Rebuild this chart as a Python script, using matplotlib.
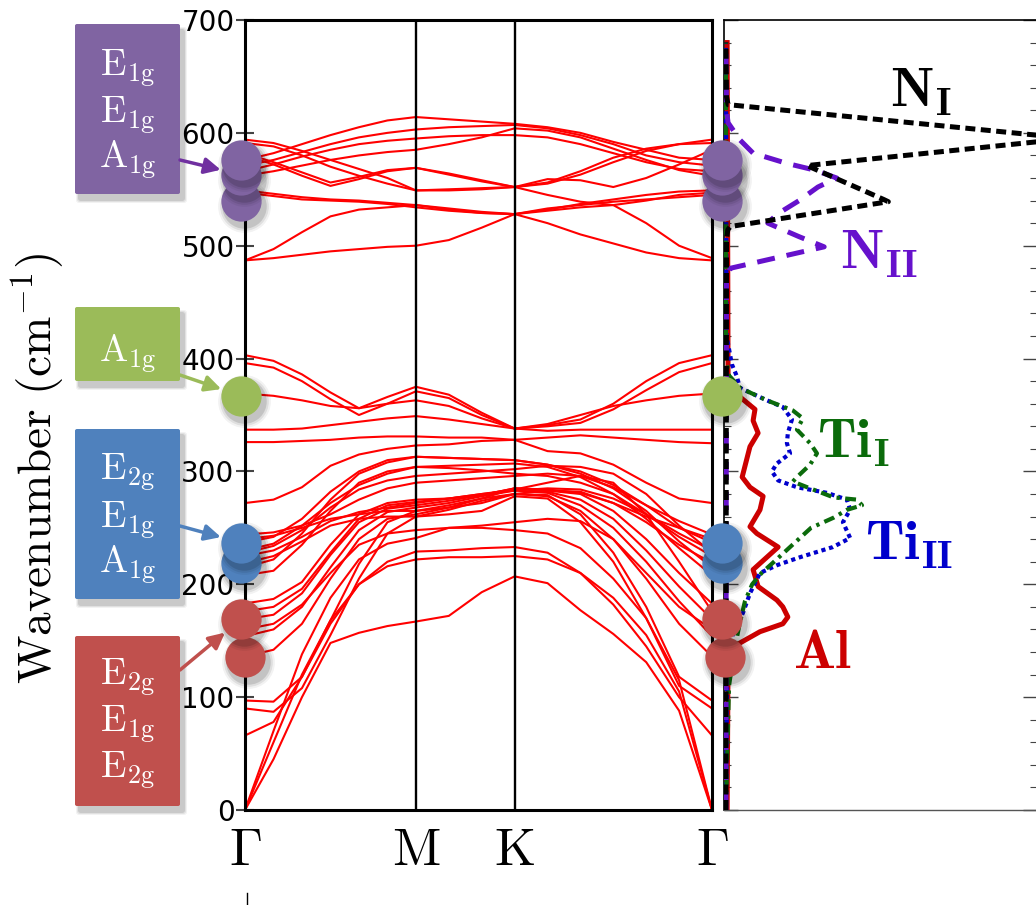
import matplotlib
matplotlib.use("Agg")
import matplotlib.pyplot as plt
from matplotlib.patches import FancyBboxPatch
from matplotlib.lines import Line2D
from matplotlib.transforms import ScaledTranslation
from matplotlib.ticker import MultipleLocator

plt.rcParams["mathtext.fontset"] = "cm"
plt.rcParams["font.family"] = "DejaVu Sans"

# ---------------------------------------------------------------- data
# k-path sample positions (Gamma-M = 1, M-K = 1/sqrt3, K-Gamma = 2/sqrt3)
K_GRID = [0.0, 0.1667, 0.3333, 0.5, 0.6667, 0.8333, 1.0,
          1.1925, 1.3849, 1.5774,
          1.7698, 1.9623, 2.1547, 2.3472, 2.5396, 2.7321]
K_TICKS = [0.0, 1.0, 1.5774, 2.7321]
K_LABELS = [r"$\Gamma$", r"$\mathrm{M}$", r"$\mathrm{K}$", r"$\Gamma$"]

# phonon branches (cm^-1) at the K_GRID points
N_BANDS = [
    [576, 582, 590, 598, 605, 611, 614, 612, 610, 608, 605, 600, 592, 585, 578, 576],
    [571, 576, 583, 590, 596, 600, 603, 605, 606, 607, 604, 598, 590, 580, 574, 571],
    [566, 572, 579, 585, 590, 593, 595, 597, 598, 598, 596, 590, 582, 574, 568, 566],
    [562, 566, 571, 576, 580, 583, 585, 590, 596, 604, 602, 596, 586, 576, 567, 562],
    [594, 591, 584, 576, 568, 560, 549, 549, 550, 552, 559, 558, 552, 560, 572, 585],
    [591, 588, 580, 570, 562, 555, 549, 550, 551, 552, 555, 563, 574, 584, 590, 594],
    [582, 574, 565, 556, 561, 567, 569, 564, 558, 552, 545, 539, 536, 520, 500, 489],
    [580, 572, 562, 553, 559, 566, 569, 563, 557, 552, 556, 566, 578, 586, 590, 591],
    [549, 546, 543, 541, 540, 538, 536, 533, 530, 528, 532, 537, 541, 545, 548, 549],
    [547, 544, 541, 540, 539, 537, 534, 531, 529, 528, 531, 534, 536, 540, 545, 547],
    [487, 497, 512, 526, 532, 534, 536, 532, 529, 528, 520, 510, 502, 494, 489, 487],
    [487, 489, 492, 495, 497, 499, 500, 505, 516, 528, 533, 536, 539, 541, 543, 545],
]
HIGH_OPTICAL = [
    [403, 398, 386, 370, 356, 366, 375, 368, 352, 338, 341, 346, 360, 380, 396, 403],
    [396, 392, 380, 364, 350, 360, 371, 365, 350, 338, 340, 343, 355, 372, 388, 396],
    [369, 367, 363, 358, 356, 360, 363, 358, 347, 338, 342, 350, 358, 363, 367, 369],
    [337, 337, 338, 341, 344, 347, 349, 346, 342, 338, 336, 337, 337, 337, 337, 337],
    [326, 326, 327, 328, 330, 331, 331, 330, 330, 328, 330, 332, 330, 328, 326, 325],
    [272, 275, 286, 305, 315, 320, 323, 324, 327, 328, 318, 316, 306, 290, 276, 272],
]
MID_OPTICAL = [
    [208, 212, 235, 265, 290, 300, 304, 305, 306, 307, 304, 295, 280, 258, 232, 208],
    [215, 222, 245, 275, 298, 308, 313, 312, 311, 310, 306, 298, 285, 265, 238, 215],
    [219, 225, 238, 252, 258, 260, 260, 266, 274, 280, 283, 282, 272, 255, 235, 219],
    [225, 230, 242, 256, 264, 268, 272, 276, 280, 283, 285, 284, 276, 262, 242, 225],
    [230, 236, 252, 272, 288, 298, 304, 303, 301, 298, 296, 290, 280, 262, 245, 230],
    [237, 242, 258, 282, 300, 310, 313, 312, 311, 310, 306, 300, 288, 270, 250, 237],
    [240, 243, 250, 258, 262, 265, 265, 270, 276, 285, 284, 281, 272, 260, 250, 240],
    [228, 234, 248, 268, 284, 292, 296, 298, 300, 302, 305, 304, 298, 280, 252, 228],
    [244, 246, 252, 262, 275, 285, 290, 292, 294, 296, 298, 296, 286, 270, 256, 244],
    [136, 142, 165, 205, 240, 258, 262, 268, 276, 280, 278, 265, 240, 205, 165, 136],
    [154, 160, 180, 215, 248, 264, 268, 272, 278, 283, 281, 270, 250, 220, 185, 154],
    [160, 165, 182, 210, 235, 245, 248, 250, 252, 255, 258, 256, 240, 210, 180, 160],
    [169, 173, 192, 226, 255, 267, 270, 274, 279, 285, 282, 275, 258, 230, 198, 169],
    [176, 180, 196, 228, 258, 270, 273, 276, 280, 284, 290, 296, 290, 262, 220, 176],
    [183, 187, 202, 235, 262, 272, 275, 276, 279, 285, 283, 280, 265, 240, 210, 183],
]
LOW_BANDS = [
    [66, 78, 118, 165, 200, 220, 229, 230, 232, 233, 228, 210, 182, 145, 100, 66],
    [90, 87, 108, 155, 205, 245, 260, 262, 265, 278, 276, 255, 220, 170, 110, 90],
    [97, 96, 118, 168, 218, 255, 265, 268, 272, 280, 279, 262, 228, 180, 118, 97],
    [0, 45, 100, 148, 157, 163, 167, 172, 193, 207, 201, 177, 156, 131, 88, 0],
    [0, 60, 120, 168, 200, 216, 222, 224, 224, 225, 222, 210, 188, 155, 105, 0],
    [0, 70, 138, 188, 222, 236, 241, 250, 250, 248, 245, 232, 205, 170, 115, 0],
]

# Raman-active Gamma modes (cm^-1) and their symmetry labels
PURPLE_MODES = [540, 563, 576]
GREEN_MODES = [367]
BLUE_MODES = [219, 237]
RED_MODES = [136, 169]
PURPLE_LABELS = [("E", "1g"), ("E", "1g"), ("A", "1g")]
GREEN_LABELS = [("A", "1g")]
BLUE_LABELS = [("E", "2g"), ("E", "1g"), ("A", "1g")]
RED_LABELS = [("E", "2g"), ("E", "1g"), ("E", "2g")]

# partial phonon DOS (arb. units) vs wavenumber
NI_W = [0, 505, 514, 517, 539, 541, 571, 592, 596, 598, 625, 632, 680]
NI_D = [0.006, 0.008, 0.012, 0.02, 0.525, 0.51, 0.265, 0.997, 1.12, 0.997, 0.013, 0.008, 0.006]
NII_W = [0, 470, 480, 499, 508, 520, 528, 540, 552, 560, 567, 573, 582, 594, 609, 620, 680]
NII_D = [0.006, 0.008, 0.02, 0.32, 0.24, 0.14, 0.17, 0.24, 0.30, 0.36, 0.29, 0.20, 0.093,
         0.05, 0.013, 0.008, 0.006]
TII_W = [0, 110, 140, 165, 185, 200, 210, 219, 233, 250, 259, 266, 270, 275, 277, 285,
         291, 295, 306, 316, 325, 337, 347, 354, 363, 374, 385, 400, 680]
TII_D = [0.006, 0.016, 0.032, 0.05, 0.067, 0.09, 0.12, 0.156, 0.211, 0.278, 0.35, 0.393,
         0.441, 0.425, 0.35, 0.275, 0.22, 0.233, 0.275, 0.297, 0.275, 0.233, 0.252, 0.22,
         0.137, 0.051, 0.016, 0.006, 0.006]
TIII_W = [0, 110, 127, 157, 175, 192, 210, 217, 224, 233, 241, 255, 266, 275, 281, 286,
          292, 300, 307, 316, 325, 334, 346, 357, 363, 374, 385, 395, 410, 420, 680]
TIII_D = [0.006, 0.01, 0.013, 0.029, 0.061, 0.083, 0.115, 0.17, 0.243, 0.348, 0.403, 0.38,
          0.403, 0.393, 0.329, 0.233, 0.173, 0.153, 0.169, 0.211, 0.201, 0.204, 0.217,
          0.188, 0.137, 0.051, 0.04, 0.025, 0.015, 0.008, 0.006]
AL_W = [0, 130, 141, 148, 158, 165, 171, 180, 186, 198, 213, 221, 233, 245, 251, 266,
        278, 286, 295, 322, 334, 345, 355, 366, 375, 385, 680]
AL_D = [0.01, 0.013, 0.029, 0.051, 0.115, 0.188, 0.204, 0.188, 0.169, 0.109, 0.093, 0.125,
        0.173, 0.105, 0.083, 0.115, 0.125, 0.083, 0.058, 0.083, 0.109, 0.093, 0.099,
        0.051, 0.026, 0.013, 0.01]

# ---------------------------------------------------------------- layout
W, H = 1036, 905
fig = plt.figure(figsize=(W / 100, H / 100), dpi=100)


def fx(x):
    return x / W


def fy(y):
    return 1 - y / H


ax = fig.add_axes([fx(245), fy(810), (712 - 245) / W, (810 - 20) / H])
ax_dos = fig.add_axes([fx(724), fy(810), (1037 - 724) / W, (810 - 20) / H])
ax.set_zorder(3)
ax_dos.set_zorder(1)

# ---------------------------------------------------------------- dispersion
for group in (N_BANDS, HIGH_OPTICAL, MID_OPTICAL, LOW_BANDS):
    for band in group:
        ax.plot(K_GRID, band, color="#ff0000", lw=1.5, solid_joinstyle="round", zorder=2)

for kx in K_TICKS[1:3]:
    ax.axvline(kx, color="black", lw=1.7, zorder=3)

ax.set_xlim(K_TICKS[0], K_TICKS[-1])
ax.set_ylim(0, 700)
ax.set_yticks(range(0, 701, 100))
ax.set_xticks(K_TICKS)
ax.set_xticklabels(K_LABELS, fontsize=38)
ax.tick_params(axis="x", length=0, pad=10)
ax.tick_params(axis="y", direction="inout", length=13, width=1.5, color="#444444",
               labelsize=20, pad=1)
for sp in ax.spines.values():
    sp.set_linewidth(2.2)

fig.text(fx(38), fy(468), r"$\mathrm{Wavenumber\ (cm^{-1})}$", rotation=90,
         ha="center", va="center", fontsize=34)

# ---------------------------------------------------------------- DOS panel
ax_dos.plot(AL_D, AL_W, color="#cc0000", lw=3.6, zorder=3)
ax_dos.plot(TIII_D, TIII_W, color="#0000cc", lw=3.0, dashes=(1.0, 0.9), zorder=4)
ax_dos.plot(TII_D, TII_W, color="#0b6b0b", lw=3.0, dashes=(2.6, 1.3, 0.8, 1.3), zorder=4)
ax_dos.plot(NII_D, NII_W, color="#6611cc", lw=3.6, dashes=(3.6, 2.4), zorder=5)
ax_dos.plot(NI_D, NI_W, color="black", lw=3.6, dashes=(2.0, 1.1), zorder=6)

ax_dos.set_xlim(0, 1)
ax_dos.set_ylim(0, 700)
ax_dos.set_xticks([])
ax_dos.yaxis.set_major_locator(MultipleLocator(100))
ax_dos.yaxis.set_minor_locator(MultipleLocator(20))
ax_dos.tick_params(axis="y", which="both", direction="in", left=True, right=True,
                   labelleft=False, color="#444444")
ax_dos.tick_params(axis="y", which="major", length=10, width=1.0)
ax_dos.tick_params(axis="y", which="minor", length=5, width=0.8)
ax_dos.spines["right"].set_visible(False)
ax_dos.spines["left"].set_linewidth(1.2)
ax_dos.spines["top"].set_linewidth(1.2)
ax_dos.spines["bottom"].set_linewidth(1.0)
ax_dos.spines["bottom"].set_color("#555555")

dos_labels = [
    (r"$\mathbf{N}_{\mathbf{I}}$", "black", 0.530, 623),
    (r"$\mathbf{N}_{\mathbf{II}}$", "#6611cc", 0.371, 480),
    (r"$\mathbf{Ti}_{\mathbf{I}}$", "#0b6b0b", 0.297, 312),
    (r"$\mathbf{Ti}_{\mathbf{II}}$", "#0000cc", 0.450, 222),
    (r"$\mathbf{Al}$", "#cc0000", 0.220, 126),
]
for txt, col, dx, wy in dos_labels:
    ax_dos.text(dx, wy, txt, color=col, fontsize=40, ha="left", va="baseline", zorder=7)

# ---------------------------------------------------------------- mode markers
px_k = (K_TICKS[-1] - K_TICKS[0]) / 467.0
shadow = ax.transData + ScaledTranslation(0.03, -0.05, fig.dpi_scale_trans)


def mode_dot(kx, w, color, z):
    for grow, alpha in ((9, 0.05), (6, 0.08), (3, 0.12)):
        ax.plot([kx], [w], "o", ms=29 + grow, color="black", alpha=alpha, mew=0,
                transform=shadow, clip_on=False, zorder=z)
    ax.plot([kx], [w], "o", ms=29, color=color, mew=0, clip_on=False, zorder=z + 0.5)


x_left = K_TICKS[0] - 4 * px_k
x_right = K_TICKS[-1] + 10 * px_k
groups = [
    (RED_MODES, "#c0504d", [(K_TICKS[0], K_TICKS[-1] + 13 * px_k), (x_left, x_right)]),
    (BLUE_MODES, "#4f81bd", [(x_left, x_right)] * 2),
    (GREEN_MODES, "#9bbb59", [(x_left, x_right)]),
    (PURPLE_MODES, "#8064a2", [(x_left, x_right)] * 3),
]
z = 10
for modes, col, xs in groups:
    for w, (xl, xr) in zip(modes, xs):
        mode_dot(xl, w, col, z)
        mode_dot(xr, w, col, z)
        z += 1

# ---------------------------------------------------------------- symmetry boxes
boxes = [
    (24, 194, "#8064a2", "#7030a0", PURPLE_LABELS, [76, 123, 168], (x_left, PURPLE_MODES[1]), 160),
    (307, 381, "#9bbb59", "#9bbb59", GREEN_LABELS, [362], (x_left, GREEN_MODES[0]), 375),
    (429, 599, "#4f81bd", "#4f81bd", BLUE_LABELS, [480, 528, 573], (x_left, BLUE_MODES[1]), 526),
    (636, 806, "#c0504d", "#c0504d", RED_LABELS, [685, 732, 778], (x_left, RED_MODES[1]), 670),
]
for top, bottom, col, acol, labels, baselines, target, ay in boxes:
    for grow, alpha in ((6, 0.05), (4, 0.07), (2, 0.1)):
        fig.patches.append(FancyBboxPatch(
            (fx(75 + 4 - grow / 2), fy(bottom + 6 + grow / 2)),
            (105 + grow) / W, (bottom - top + grow) / H,
            boxstyle="round,pad=0,rounding_size=0.003", transform=fig.transFigure,
            facecolor="black", edgecolor="none", alpha=alpha, zorder=1))
    fig.patches.append(FancyBboxPatch(
        (fx(75), fy(bottom)), 105 / W, (bottom - top) / H,
        boxstyle="round,pad=0,rounding_size=0.002", transform=fig.transFigure,
        facecolor=col, edgecolor="none", zorder=2))
    for (sym, sub), by in zip(labels, baselines):
        fig.text(fx(127.5), fy(by), r"$\mathrm{%s}_{\mathrm{%s}}$" % (sym, sub),
                 color="white", fontsize=27, ha="center", va="baseline", zorder=4)
    ax.annotate("", xy=target, xycoords="data", xytext=(fx(180), fy(ay)),
                textcoords="figure fraction", annotation_clip=False,
                arrowprops=dict(arrowstyle="-|>", color=acol, lw=2.5, mutation_scale=24,
                                shrinkA=0, shrinkB=15), zorder=9)

fig.add_artist(Line2D([fx(247), fx(247)], [fy(893), fy(905)], color="black", lw=1.0))

fig.savefig("out.png", dpi=100)
